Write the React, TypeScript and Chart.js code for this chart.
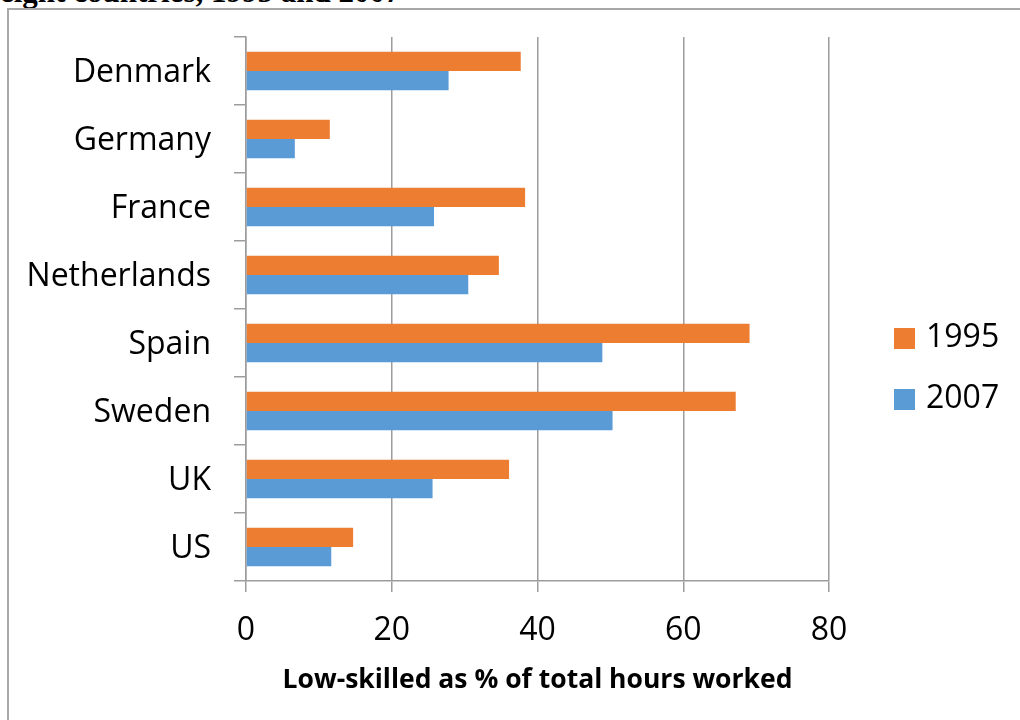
import React, { useEffect, useRef } from "react";
import { Chart, registerables } from "chart.js";

Chart.register(...registerables);

const categories = ["Denmark", "Germany", "France", "Netherlands", "Spain", "Sweden", "UK", "US"];
const values1995 = [37.7, 11.5, 38.3, 34.7, 69.1, 67.2, 36.1, 14.7];
const values2007 = [27.8, 6.7, 25.8, 30.5, 48.9, 50.3, 25.6, 11.7];
const seriesNames = ["1995", "2007"];
const seriesColors = ["#ED7D31", "#5B9BD5"];
const xTicks = [0, 20, 40, 60, 80];
const axisTitle = "Low-skilled as % of total hours worked";
const headerText = "eight countries, 1995 and 2007";

const FONT = '"Open Sans", "Noto Sans", sans-serif';
const GRID = "#9c9c9c";

const sideLegend = {
  id: "sideLegend",
  afterDraw(chart: any) {
    const { ctx, chartArea } = chart;
    const x = chartArea.right + 65;
    const mid = (chartArea.top + chartArea.bottom) / 2 + 29.5;
    ctx.save();
    chart.data.datasets.forEach((ds: any, i: number) => {
      const cy = mid + i * 61;
      ctx.fillStyle = ds.backgroundColor;
      ctx.fillRect(x, cy - 10.5, 21, 21);
      ctx.fillStyle = "#000";
      ctx.font = `32px ${FONT}`;
      ctx.textBaseline = "middle";
      ctx.textAlign = "left";
      ctx.fillText(ds.label, x + 32, cy - 0.5);
    });
    ctx.restore();
  },
};

export default function App() {
  const ref = useRef<HTMLCanvasElement | null>(null);

  useEffect(() => {
    if (!ref.current) return;
    const chart = new Chart(ref.current, {
      type: "bar",
      data: {
        labels: categories,
        datasets: [
          { label: seriesNames[0], data: values1995, backgroundColor: seriesColors[0], borderWidth: 0 },
          { label: seriesNames[1], data: values2007, backgroundColor: seriesColors[1], borderWidth: 0 },
        ],
      },
      options: {
        indexAxis: "y",
        animation: false,
        responsive: false,
        devicePixelRatio: 1,
        layout: { padding: { left: 0, right: 191, top: 37, bottom: 0 } },
        datasets: { bar: { categoryPercentage: 0.567, barPercentage: 1.0 } },
        plugins: { legend: { display: false }, tooltip: { enabled: false } },
        scales: {
          y: {
            type: "category",
            afterFit: (s: any) => {
              s.width = 246;
              s.paddingTop = 0;
              s.paddingBottom = 0;
            },
            grid: { drawOnChartArea: false, drawTicks: true, tickLength: 12, color: GRID, lineWidth: 1.5 },
            border: { display: true, color: GRID, width: 1.5 },
            ticks: { color: "#000", font: { family: FONT, size: 32 }, padding: 23, labelOffset: 2 },
          },
          x: {
            type: "linear",
            min: 0,
            max: 80,
            afterFit: (s: any) => {
              s.height = 139;
              s.paddingLeft = 0;
              s.paddingRight = 0;
            },
            afterBuildTicks: (s: any) => { s.ticks = xTicks.map((v) => ({ value: v })); },
            grid: { drawOnChartArea: true, drawTicks: true, tickLength: 11, color: GRID, lineWidth: 1.5 },
            border: { display: true, color: GRID, width: 1.5 },
            ticks: { color: "#000", font: { family: FONT, size: 32 }, padding: 20, maxRotation: 0 },
            title: {
              display: true,
              text: axisTitle,
              color: "#000",
              font: { family: FONT, size: 26.5, weight: "bold" },
              padding: { top: 0, bottom: 24 },
            },
          },
        },
      },
      plugins: [sideLegend],
    });
    return () => chart.destroy();
  }, []);

  return (
    <div style={{ position: "fixed", left: 0, top: 0, width: 1020, height: 720, background: "#fff", overflow: "hidden" }}>
      <div
        style={{
          position: "absolute",
          left: 0,
          top: -24,
          font: 'bold 31px "Liberation Serif", "Times New Roman", serif',
          lineHeight: 1,
          whiteSpace: "nowrap",
          color: "#000",
        }}
      >
        {headerText}
      </div>
      <div
        style={{
          position: "absolute",
          left: 7,
          top: 8,
          width: 1030,
          height: 730,
          borderLeft: "2px solid #a8a8a8",
          borderTop: "2px solid #a8a8a8",
          boxSizing: "border-box",
        }}
      />
      <canvas ref={ref} width={1020} height={720} style={{ position: "absolute", left: 0, top: 0, width: 1020, height: 720 }} />
    </div>
  );
}
